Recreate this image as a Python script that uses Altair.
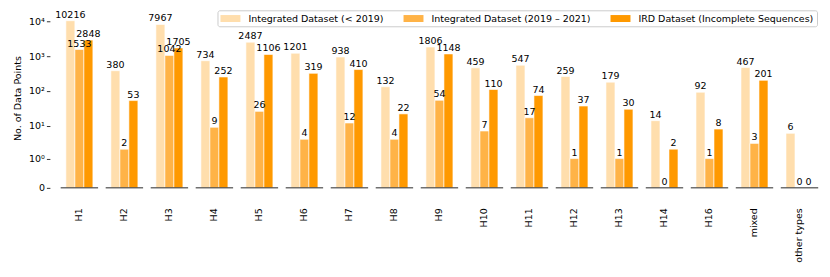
import altair as alt
import pandas as pd

categories = ["H1", "H2", "H3", "H4", "H5", "H6", "H7", "H8", "H9", "H10",
              "H11", "H12", "H13", "H14", "H16", "mixed", "other types"]
series_names = ["Integrated Dataset (< 2019)",
                "Integrated Dataset (2019 – 2021)",
                "IRD Dataset (Incomplete Sequences)"]
before_2019 = [10216, 380, 7967, 734, 2487, 1201, 938, 132, 1806, 459, 547, 259, 179, 14, 92, 467, 6]
from_2019_to_2021 = [1533, 2, 1042, 9, 26, 4, 12, 4, 54, 7, 17, 1, 1, 0, 1, 3, 0]
ird_incomplete = [2848, 53, 1705, 252, 1106, 319, 410, 22, 1148, 110, 74, 37, 30, 2, 8, 201, 0]
colors = ["#FFDEAD", "#FFB347", "#FF9900"]
y_tick_values = [0, 1, 10, 100, 1000, 10000]

rows = []
for s, vals in zip(series_names, [before_2019, from_2019_to_2021, ird_incomplete]):
    for c, v in zip(categories, vals):
        rows.append({"category": c, "series": s, "value": v})
df = pd.DataFrame(rows)
base_df = pd.DataFrame({"category": categories, "value": [0] * len(categories)})

FONT = "DejaVu Sans"
FS = 9.5

yscale = alt.Scale(type="symlog", constant=0.17, domain=[0, 23100], nice=False)
xscale = alt.Scale(domain=categories, paddingInner=0, paddingOuter=0)
xoff = alt.XOffset("series:N", sort=series_names,
                   scale=alt.Scale(domain=series_names, paddingInner=0, paddingOuter=1.0))

label_expr = ("datum.value == 0 ? '0' : datum.value == 1 ? '10⁰' : datum.value == 10 ? '10¹' : "
              "datum.value == 100 ? '10²' : datum.value == 1000 ? '10³' : '10⁴'")

x_enc = alt.X("category:N", scale=xscale, sort=categories,
              axis=alt.Axis(title=None, labelAngle=-90, ticks=False, domain=False,
                            labelPadding=20, labelFont=FONT, labelFontSize=FS,
                            labelColor="black"))
y_enc = alt.Y("value:Q", scale=yscale,
              axis=alt.Axis(values=y_tick_values, labelExpr=label_expr, labelOverlap=False,
                            title="No. of Data Points", grid=False, domain=False,
                            tickSize=3.5, tickColor="black", tickWidth=0.8,
                            labelFont=FONT, labelFontSize=FS, labelColor="black",
                            labelPadding=2, offset=7,
                            titleFont=FONT, titleFontSize=FS, titleFontWeight="normal",
                            titleColor="black", titlePadding=6))

bars = alt.Chart(df).mark_bar(stroke="white", strokeWidth=0.6).encode(
    x=x_enc,
    xOffset=xoff,
    y=y_enc,
    color=alt.Color("series:N",
                    scale=alt.Scale(domain=series_names, range=colors),
                    legend=alt.Legend(title=None, orient="none", legendX=161, legendY=2,
                                      direction="horizontal",
                                      symbolType="M-1,-0.7L3,-0.7L3,0.7L-1,0.7Z",
                                      symbolSize=100, symbolStrokeWidth=0,
                                      labelFont=FONT, labelFontSize=FS, labelColor="black",
                                      labelOffset=18, labelLimit=300, columnPadding=19.5,
                                      padding=3, strokeColor="#cccccc",
                                      fillColor="rgba(255,255,255,0.8)", cornerRadius=2)),
)

baseline = alt.Chart(base_df).mark_tick(size=37.5, thickness=1.5, color="#333333").encode(
    x=x_enc,
    y=y_enc,
)

labels = alt.Chart(df).mark_text(baseline="bottom", dy=-1, font=FONT, fontSize=FS,
                                 color="black").encode(
    x=x_enc,
    xOffset=xoff,
    y=y_enc,
    text=alt.Text("value:Q"),
)

chart = alt.layer(bars, baseline, labels).properties(
    width=767, height=180,
    padding={"left": 4, "top": 0, "right": 0, "bottom": 0},
).configure_view(stroke=None)

chart.save("out.html", embed_options={"renderer": "svg", "actions": False})
